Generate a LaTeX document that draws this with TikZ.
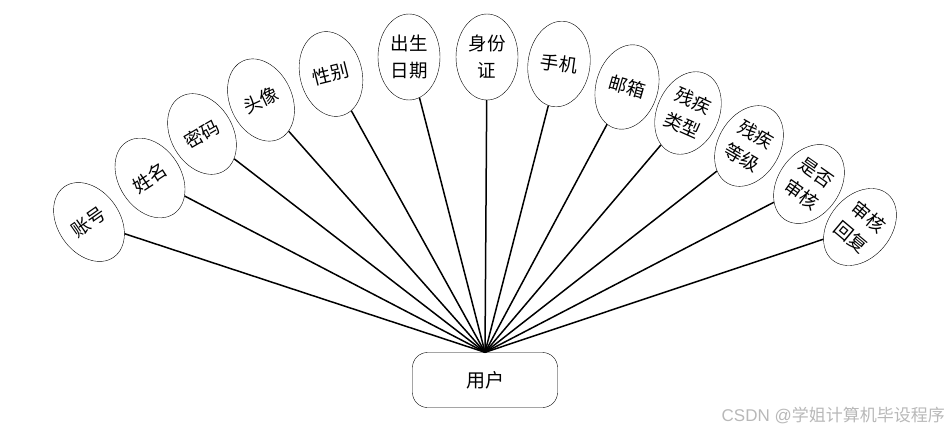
\documentclass[tikz,border=0pt]{standalone}
\usepackage{fontspec}
\setmainfont{Noto Sans CJK SC}
\setsansfont{Liberation Sans}
\usetikzlibrary{shapes.geometric}

\begin{document}
\begin{tikzpicture}[
                x=1pt, y=-1pt,
                attr/.style={ellipse,draw,thin,inner sep=0pt,minimum width=62pt,minimum height=86pt,
                    align=center,font=\fontsize{18.5}{27}\selectfont},
                entity/.style={rectangle,rounded corners=15pt,draw,thin,minimum width=145pt,
                    minimum height=55pt,font=\fontsize{19}{22}\selectfont},
                link/.style={line width=1.5pt}
            ]

            \useasboundingbox (0,0) rectangle (951,434);

            \node[entity] (yonghu) at (485,380) {用户};

            \node[attr,rotate=35] (zhanghao) at (89,222) {账号};
            \node[attr,rotate=33] (xingming) at (150,178) {姓名};
            \node[attr,rotate=30] (mima) at (202,134) {密码};
            \node[attr,rotate=25] (touxiang) at (261,100) {头像};
            \node[attr,rotate=14] (xingbie) at (331,74) {性别};
            \node[attr] (chusheng) at (409,57) {出生\\日期};
            \node[attr] (shenfen) at (487,57) {身份\\证};
            \node[attr,rotate=-8] (shouji) at (559,64) {手机};
            \node[attr,rotate=-16] (youxiang) at (627,87) {邮箱};
            \node[attr,rotate=-24] (leixing) at (688,113) {残疾\\类型};
            \node[attr,rotate=-30] (dengji) at (749,146) {残疾\\等级};
            \node[attr,rotate=-35] (shenhe) at (809,184) {是否\\审核};
            \node[attr,rotate=-40] (huifu) at (860,227) {审核\\回复};

            \foreach \a in {zhanghao,xingming,mima,touxiang,xingbie,chusheng,shenfen,
                    shouji,youxiang,leixing,dengji,shenhe,huifu}
                \draw[link] (yonghu.north) -- (\a);

            \node[anchor=east,text=black!28,inner sep=0pt,font=\sffamily\fontsize{17}{20}\selectfont]
                (mark) at (945,415) {CSDN @{\rmfamily 学姐计算机毕设程序}};

        \end{tikzpicture}
\end{document}
